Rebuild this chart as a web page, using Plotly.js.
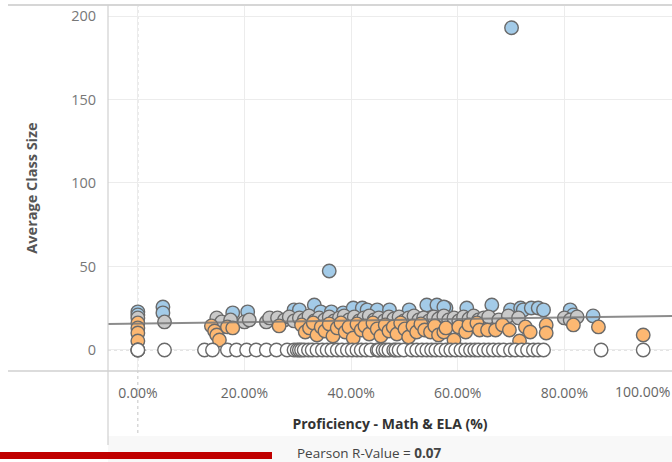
<!DOCTYPE html>
<html>
<head>
<meta charset="utf-8">
<script src="https://cdn.plot.ly/plotly-3.0.1.min.js"></script>
<style>html,body{margin:0;padding:0;background:#fff;}#chart{width:672px;height:462px;}</style>
</head>
<body>
<div id="chart"></div>
<script>
// ---- Data (x = Proficiency Math & ELA in %, y = Average Class Size) ----
const whiteX = [0,0,0,5.0,12.5,14.0,16.8,18.5,20.4,22.2,24.1,26.0,28.0,29.3,29.9,30.3,30.7,31.2,32.0,32.7,33.6,34.6,35.5,36.4,37.4,38.3,39.3,40.2,41.1,41.9,42.8,43.7,44.9,45.2,46.0,46.5,47.1,48.0,48.4,49.0,49.9,51.4,52.3,53.3,54.2,55.1,55.9,56.8,57.8,58.7,59.6,60.6,61.5,62.4,63.2,63.9,64.9,65.8,66.7,67.7,68.6,69.9,70.8,72.0,73.1,74.2,75.1,76.1,86.9,94.8];
const whiteY = whiteX.map(() => 0);

const orangeX = [0,0,0,0,13.8,14.4,14.8,15.3,16.8,17.8,26.5,
  30.7,31.4,32.2,32.9,33.6,34.4,35.1,35.9,36.6,37.4,38.1,38.9,39.6,40.4,41.1,41.9,42.6,43.4,44.1,44.9,45.6,46.4,47.1,47.9,48.6,49.3,50.1,50.8,51.6,52.3,53.1,53.8,54.9,55.7,56.4,57.4,57.8,59.3,60.2,61.5,62.1,63.6,64.1,65.6,67.1,68.4,69.7,71.6,72.7,73.6,76.6,76.6,81.7,86.4,94.8];
const orangeY = [16.2,13.2,10.2,5.4,14.4,11.4,9.0,6.0,13.8,13.2,14.4,
  15.0,10.8,13.2,16.2,9.0,13.8,11.4,15.6,8.4,13.2,16.2,10.8,13.8,7.2,15.6,12.0,14.4,9.6,16.2,12.6,8.4,15.0,11.4,13.8,9.6,16.2,12.6,7.8,14.4,10.8,15.6,12.0,10.8,14.4,9.0,10.8,13.2,6.0,13.8,10.8,15.0,16.2,12.0,12.0,12.0,15.0,12.0,5.4,13.8,10.8,15.0,10.2,15.0,13.8,9.0];

const grayX = [0,5.0,14.8,15.7,17.4,20.0,20.9,24.1,24.7,26.2,27.5,28.4,29.3,30.3,31.2,32.1,33.1,34.0,35.0,35.9,36.8,37.8,38.7,39.6,40.6,41.5,42.4,43.4,44.3,45.2,46.2,47.1,48.0,49.0,49.9,50.8,51.8,52.7,53.6,54.6,55.5,56.4,57.4,58.3,59.3,60.2,61.1,62.1,63.0,63.9,64.9,65.8,67.7,69.5,71.4,80.0,81.1,82.4];
const grayY = [19.2,16.8,19.2,16.8,18.0,16.8,18.0,16.8,19.2,19.2,18.0,19.8,17.4,19.2,18.0,20.4,17.4,19.2,18.0,19.8,17.4,19.2,20.4,18.0,19.8,17.4,19.2,20.4,18.0,19.2,17.4,19.8,18.6,19.8,17.4,19.2,20.4,18.0,19.2,17.4,19.8,18.6,20.4,18.0,19.2,17.4,19.8,18.6,20.4,18.0,19.2,19.8,18.0,20.4,19.2,19.2,18.0,19.8];

const blueX = [0,0,4.7,4.7,17.8,20.6,29.3,30.3,33.1,34.3,36.3,38.5,40.4,42.1,43.0,44.9,47.2,50.9,54.2,56.1,57.8,57.4,61.7,66.4,69.9,71.8,72.3,73.8,75.1,76.1,81.1,81.7,85.4,35.9,70.1];
const blueY = [22.8,21.0,25.7,22.2,22.2,22.8,24.0,24.0,26.9,22.8,22.8,22.2,25.1,25.1,24.0,24.0,24.0,24.0,26.9,26.9,25.1,25.7,25.1,26.9,24.0,25.1,24.0,25.1,25.1,24.0,24.0,21.0,20.4,47.3,193.0];

// Trend line parameters
const trendIntercept = 15.8;   // class size at 0 %
const trendSlope = 0.046;      // per percentage point
const pearsonR = "0.07";

const xTickVals = [0,20,40,60,80];
const xTickText = ["0.00%","20.00%","40.00%","60.00%","80.00%"];
const lastTickLabel = "100.00%";
const yTickVals = [0,50,100,150,200];

const xRange = [-5.6, 100.2];
const yRange = [-12.6, 206.6];

// ---- Styles ----
const FONT = "Open Sans, Noto Sans, sans-serif";
const edge = {color: "#6a6a6a", width: 1.4};
function pts(x, y, color) {
  return {type: "scatter", mode: "markers", x: x, y: y, hoverinfo: "skip",
    marker: {size: 13.5, color: color, line: edge}, showlegend: false};
}

const trendX = [xRange[0], xRange[1]];
const trendY = trendX.map(v => trendIntercept + trendSlope * v);

const data = [
  pts(blueX, blueY, "#a3cbe8"),
  pts(grayX, grayY, "#c9c9c9"),
  pts(orangeX, orangeY, "#fdb872"),
  pts(whiteX, whiteY, "#ffffff"),
  {type: "scatter", mode: "lines", x: trendX, y: trendY, hoverinfo: "skip",
    line: {color: "rgba(120,120,120,0.85)", width: 2}, showlegend: false}
];

// paper coords helpers: plot area is x 108..672 px, y 5..371 px
const px = v => (v - 108) / 564;
const py = v => (371 - v) / 366;

const layout = {
  width: 672, height: 462,
  margin: {l: 108, r: 0, t: 5, b: 91},
  paper_bgcolor: "#ffffff", plot_bgcolor: "#ffffff",
  font: {family: FONT, color: "#777", size: 14},
  xaxis: {
    range: xRange, tickvals: xTickVals, ticktext: xTickText,
    showgrid: true, gridcolor: "#ececec", gridwidth: 1, zeroline: false,
    showline: false, ticks: "outside", ticklen: 9, tickcolor: "rgba(0,0,0,0)",
    tickfont: {size: 14, color: "#666", family: FONT},
    title: {text: "<b>Proficiency - Math & ELA (%)</b>", standoff: 18,
      font: {size: 14, color: "#333", family: FONT}},
    fixedrange: true
  },
  yaxis: {
    range: yRange, tickvals: yTickVals,
    showgrid: true, gridcolor: "#ececec", gridwidth: 1, zeroline: false,
    showline: false, ticks: "outside", ticklen: 8, tickcolor: "rgba(0,0,0,0)",
    tickfont: {size: 14.5, color: "#777", family: FONT},
    title: {text: "<b>Average Class Size</b>", standoff: 30,
      font: {size: 14.5, color: "#555", family: FONT}},
    fixedrange: true
  },
  shapes: [
    // dotted zero lines
    {type: "line", xref: "paper", yref: "y", x0: 0, x1: 1, y0: 0, y1: 0,
      line: {color: "#c4c4c4", width: 1, dash: "dot"}, layer: "below"},
    {type: "line", xref: "x", yref: "paper", x0: 0, x1: 0, y0: py(445), y1: 1,
      line: {color: "#c4c4c4", width: 1, dash: "dot"}, layer: "below"},
    // bottom light band
    {type: "rect", xref: "paper", yref: "paper", x0: 0, x1: 1, y0: py(462), y1: py(436),
      fillcolor: "#f8f8f8", line: {width: 0}, layer: "below"},
    // pane borders
    {type: "line", xref: "paper", yref: "paper", x0: px(8), x1: 1, y0: py(371), y1: py(371),
      line: {color: "#d0d0d0", width: 1.5}},
    {type: "line", xref: "paper", yref: "paper", x0: px(8), x1: 1, y0: py(5), y1: py(5),
      line: {color: "#d6d6d6", width: 2}},
    {type: "line", xref: "paper", yref: "paper", x0: 0, x1: 0, y0: py(445), y1: py(5),
      line: {color: "#d0d0d0", width: 1.2}},
    // red bar
    {type: "rect", xref: "paper", yref: "paper", x0: px(0), x1: px(272), y0: py(459), y1: py(452),
      fillcolor: "#c00000", line: {width: 0}}
  ],
  annotations: [
    {xref: "paper", yref: "paper", x: 1, y: py(391.5), xanchor: "right", yanchor: "middle",
      text: lastTickLabel, showarrow: false, font: {size: 14, color: "#666", family: FONT}},
    {xref: "paper", yref: "paper", x: px(369), y: py(453), xanchor: "center", yanchor: "middle",
      text: "Pearson R-Value = <b>" + pearsonR + "</b>", showarrow: false,
      font: {size: 13.5, color: "#444", family: FONT}}
  ]
};

Plotly.newPlot("chart", data, layout, {staticPlot: true, displayModeBar: false});
</script>
</body>
</html>
